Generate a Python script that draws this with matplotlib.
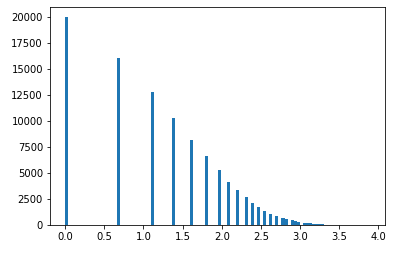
import numpy as np
import matplotlib
matplotlib.use('Agg')
import matplotlib.pyplot as plt

# value k and how many times it was seen
k_values = list(range(1, 50))
counts = [20000, 16100, 12850, 10300, 8150, 6600, 5300, 4150, 3350, 2700,
          2150, 1750, 1380, 1100, 880, 700, 560, 450, 360, 290,
          230, 185, 150, 120, 95, 75, 60, 48, 38, 30,
          25, 20, 16, 12, 10, 8, 6, 5, 4, 3,
          3, 2, 2, 1, 1, 1, 1, 0, 1]

log_k = np.log(k_values)

fig = plt.figure(figsize=(401 / 72, 253 / 72), dpi=72)
ax = fig.add_axes([50 / 401, 1 - 225 / 253, 335 / 401, 218 / 253])

ax.hist(log_k, bins=100, range=(0, log_k.max()), weights=counts, color='#1f77b4')
ax.set_yticks([0, 2500, 5000, 7500, 10000, 12500, 15000, 17500, 20000])
ax.tick_params(labelsize=10)

fig.savefig('out.png', dpi=72)
